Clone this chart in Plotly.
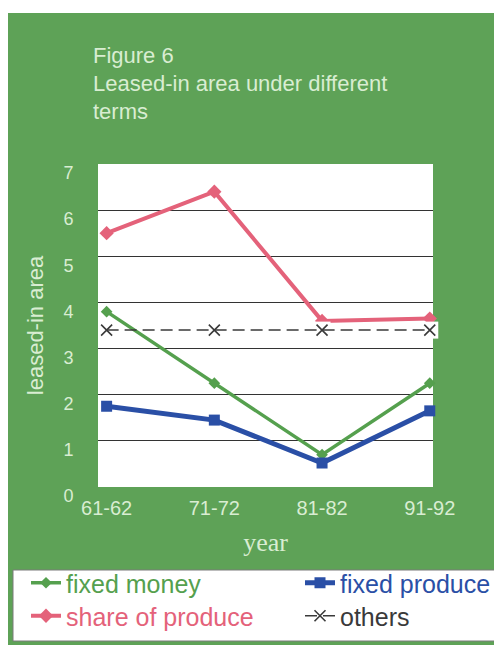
import plotly.graph_objects as go

years = ["61-62", "71-72", "81-82", "91-92"]
fixed_money = [3.8, 2.25, 0.7, 2.25]
fixed_produce = [1.75, 1.45, 0.52, 1.65]
share_of_produce = [5.5, 6.4, 3.6, 3.65]
others = [3.4, 3.4, 3.4, 3.4]
y_ticks = [0, 1, 2, 3, 4, 5, 6, 7]

W, H = 494, 645
L, T = 98, 164          # plot area left/top in pixels
pw, ph = 335, 323       # plot area size
ml, mt = L, T
mr, mb = W - ml - pw, H - mt - ph

def px(x):
    return (x - L) / pw

def py(y):
    return (T + ph - y) / ph

BG = "#5ea257"
LIGHT = "#d9edd2"
RED = "#e4627a"
BLUE = "#2a4fa6"
GREEN = "#55a04e"
DARK = "#3a3a3a"

xs = list(range(len(years)))

fig = go.Figure()
fig.add_trace(go.Scatter(
    x=xs, y=fixed_money, mode="lines+markers", legend="legend",
    name="<span style='color:%s'>fixed money</span>" % GREEN,
    line=dict(color=GREEN, width=3.5),
    marker=dict(symbol="diamond", size=9, color=GREEN),
    cliponaxis=False))
fig.add_trace(go.Scatter(
    x=xs, y=fixed_produce, mode="lines+markers", legend="legend2",
    name="<span style='color:%s'>fixed produce</span>" % BLUE,
    line=dict(color=BLUE, width=5),
    marker=dict(symbol="square", size=11, color=BLUE),
    cliponaxis=False))
fig.add_trace(go.Scatter(
    x=xs, y=share_of_produce, mode="lines+markers", legend="legend3",
    name="<span style='color:%s'>share of produce</span>" % RED,
    line=dict(color=RED, width=4),
    marker=dict(symbol="diamond", size=11, color=RED),
    cliponaxis=False))
# white boxes behind the "x" markers of the others series
fig.add_trace(go.Scatter(
    x=xs, y=others, mode="markers", showlegend=False, hoverinfo="skip",
    marker=dict(symbol="square", size=17, color="white"),
    cliponaxis=False))
fig.add_trace(go.Scatter(
    x=xs, y=others, mode="lines+markers", legend="legend4",
    name="<span style='color:%s'>others</span>" % DARK,
    line=dict(color=DARK, width=1.5, dash="12px,6px"),
    marker=dict(symbol="x-thin-open", size=11,
                line=dict(color=DARK, width=1.6)),
    cliponaxis=False))

# green panel
fig.add_shape(type="rect", xref="paper", yref="paper",
              x0=px(8), x1=px(W + 20), y0=py(H + 20), y1=py(13),
              fillcolor=BG, line=dict(width=0), layer="below")
# white plotting area
fig.add_shape(type="rect", xref="paper", yref="paper",
              x0=0, x1=1, y0=0, y1=1,
              fillcolor="white", line=dict(width=0), layer="below")
# legend box
fig.add_shape(type="rect", xref="paper", yref="paper",
              x0=px(13), x1=px(W + 20), y0=py(641), y1=py(570),
              fillcolor="white", line=dict(width=1, color="#7a7a7a"),
              layer="above")

titles = [("Figure 6", 55), ("Leased-in area under different", 83), ("terms", 112)]
for txt, yy in titles:
    fig.add_annotation(text=txt, xref="paper", yref="paper",
                       x=px(91), y=py(yy), xanchor="left", yanchor="middle",
                       showarrow=False,
                       font=dict(family="Liberation Sans", size=22, color=LIGHT))

legend_common = dict(
    orientation="v", xanchor="left", yanchor="top",
    bgcolor="rgba(0,0,0,0)", borderwidth=0,
    font=dict(family="Liberation Sans", size=25),
    tracegroupgap=0, itemwidth=30,
)

fig.update_layout(
    width=W, height=H,
    margin=dict(l=ml, r=mr, t=mt, b=mb, autoexpand=False),
    paper_bgcolor="white",
    plot_bgcolor="white",
    showlegend=True,
    legend=dict(x=px(26), y=py(560), **legend_common),
    legend2=dict(x=px(300), y=py(560), **legend_common),
    legend3=dict(x=px(26), y=py(593), **legend_common),
    legend4=dict(x=px(300), y=py(593), **legend_common),
    xaxis=dict(
        range=[-0.08, 3.03], tickvals=xs, ticktext=years,
        showgrid=False, zeroline=False, showline=False,
        ticks="outside", ticklen=3, tickcolor=BG,
        tickfont=dict(family="Liberation Sans", size=20, color=LIGHT),
        title=dict(text="year", standoff=14,
                   font=dict(family="Liberation Serif", size=26, color=LIGHT)),
    ),
    yaxis=dict(
        range=[0, 7], tickvals=y_ticks,
        showgrid=True, gridcolor="#333", gridwidth=1,
        zeroline=False, showline=False,
        ticks="outside", ticklen=20, tickcolor=BG,
        ticklabelshift=9,
        tickfont=dict(family="Liberation Sans", size=18, color=LIGHT),
        title=dict(text="leased-in area", standoff=13,
                   font=dict(family="Liberation Sans", size=22, color=LIGHT)),
    ),
)

fig.write_html(
    "out.html",
    config={"displayModeBar": False},
    post_script="document.body.style.margin='0px';"
                "document.body.style.overflow='hidden';",
)
